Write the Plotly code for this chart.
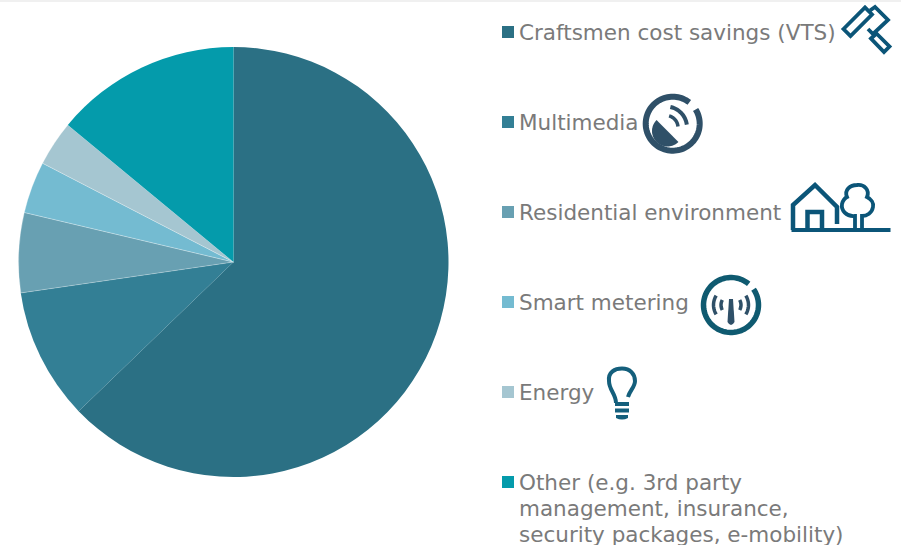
import math
import plotly.graph_objects as go

categories = ["Craftsmen cost savings (VTS)", "Multimedia", "Residential environment",
              "Smart metering", "Energy", "Other (e.g. 3rd party"]
other_extra_lines = ["management, insurance,", "security packages, e-mobility)"]
values = [62.8, 9.9, 6.0, 3.9, 3.4, 14.0]
colors = ["#2b7084", "#337f95", "#68a0b2", "#74bbd1", "#a5c6d1", "#049bab"]
slice_line_widths = [0, 0, 0.5, 0.5, 0.5, 0]
legend_y = [32, 122, 212, 302, 392, 482]

W, H = 901, 545
CX, CY, R = 233.5, 262, 215
TEXT = "#7a7a7a"
BLUE = "#0b5578"
SLATE = "#2f5068"
TEAL = "#0f5a70"
BULB = "#145f7c"


def poly(points, close=False):
    return "M " + " L ".join(f"{x:.2f},{y:.2f}" for x, y in points) + (" Z" if close else "")


def arc(cx, cy, r, a0, a1, n=48):
    """Polyline arc; angles in degrees, counter-clockwise from east, screen y down."""
    return [(cx + r * math.cos(math.radians(a0 + (a1 - a0) * i / n)),
             cy - r * math.sin(math.radians(a0 + (a1 - a0) * i / n))) for i in range(n + 1)]


def stroke(path, color, width):
    return dict(type="path", xref="x", yref="y", path=path, line=dict(color=color, width=width), fillcolor="rgba(0,0,0,0)")


def solid(path, color):
    return dict(type="path", xref="x", yref="y", path=path, line_width=0, fillcolor=color)


fig = go.Figure()
fig.add_trace(go.Pie(values=values, labels=categories, sort=False, direction="clockwise", rotation=0,
                     marker=dict(colors=colors, line=dict(color="rgba(255,255,255,0.55)", width=slice_line_widths)),
                     textinfo="none", hoverinfo="label+percent", showlegend=False,
                     domain=dict(x=[(CX - R) / W, (CX + R) / W], y=[1 - (CY + R) / H, 1 - (CY - R) / H])))
fig.add_trace(go.Scatter(x=[0], y=[0], mode="markers", marker=dict(opacity=0), showlegend=False, hoverinfo="skip"))

shapes = [dict(type="rect", xref="x", yref="y", x0=0, x1=W, y0=0, y1=2, fillcolor="#f0f0f0", line_width=0, layer="below")]
annotations = []
FS = 21.5


def add_text(txt, y):
    annotations.append(dict(x=516.5, y=y, xref="x", yref="y", xanchor="left", yanchor="middle", align="left",
                            text=txt, showarrow=False, font=dict(family="DejaVu Sans", size=FS, color=TEXT)))


for lab, col, y in zip(categories, colors, legend_y):
    shapes.append(dict(type="rect", xref="x", yref="y", x0=502, x1=514, y0=y - 6, y1=y + 6, fillcolor=col, line_width=0))
    add_text(lab, y)
for i, lab in enumerate(other_extra_lines):
    add_text(lab, legend_y[-1] + 26 * (i + 1))

# Roller icon
shapes += [
    stroke(poly([(843.5, 29), (865, 7.5), (872, 14.5), (850.5, 36)], True), BLUE, 3.8),
    stroke(poly([(870, 10.5), (875, 7), (888, 20), (873, 34), (868, 29)]), BLUE, 3.8),
    stroke(poly([(871, 38.5), (876.5, 33.5), (889.5, 46.5), (884, 52)], True), BLUE, 3.8),
]
# Satellite icon
shapes += [
    stroke(poly(arc(672.7, 123.7, 27, 52, 392, 90)), SLATE, 6),
    solid(poly(arc(667.5, 131, 15.5, 135, 315, 40), True), SLATE),
    stroke(poly(arc(666, 127.5, 12, 5, 75, 20)), SLATE, 3.5),
    stroke(poly(arc(666, 127.5, 21, 8, 78, 24)), SLATE, 4),
]
# House and tree icon
shapes += [
    stroke(poly([(793, 230), (793, 205), (815, 185), (837, 207), (837, 224)]), BLUE, 4.5),
    stroke(poly([(807.5, 230), (807.5, 212), (822, 212), (822, 230)]), BLUE, 4.5),
    solid("M 791.5,228 L 890.5,228 L 890.5,232 L 791.5,232 Z", BLUE),
    stroke("M 855,230 L 855,216 C 846,217 841,210 842,204 C 843,200 845,198 847,197 "
           "C 844,190 850,185 857,185 C 864,184 870,190 867,197 C 871,199 874,203 873,207 "
           "C 872,213 867,216 862,216 L 862,230", BLUE, 3.8),
]
# Meter icon
shapes += [
    stroke(poly(arc(731, 305, 27.5, 50, 395, 90)), TEAL, 5.5),
    solid("M 729,299 L 733,299 L 734.5,322 Q 731,328 727.5,322 Z", SLATE),
    stroke(poly(arc(731, 305, 10, -30, 30, 12)), SLATE, 3.5),
    stroke(poly(arc(731, 305, 10, 150, 210, 12)), SLATE, 3.5),
    stroke(poly(arc(731, 305, 17.5, -32, 32, 12)), SLATE, 3.5),
    stroke(poly(arc(731, 305, 17.5, 148, 212, 12)), SLATE, 3.5),
]
# Bulb icon
shapes += [
    stroke("M 616,403 C 616,394 609,390 609,381 C 608,372 615,368.5 622,368.5 C 630,368.5 635,374 635,381 "
           "C 635,387 630,390 628,397", BULB, 4),
    solid("M 615,402 L 629,402 L 629,406 L 615,406 Z", BULB),
    solid("M 615,408.5 L 629,408.5 L 629,412.5 L 615,412.5 Z", BULB),
    solid("M 616,415 L 628,415 L 628,418 Q 622,421 616,418 Z", BULB),
]

fig.update_layout(width=W, height=H, margin=dict(l=0, r=0, t=0, b=0), paper_bgcolor="white", plot_bgcolor="white",
                  xaxis=dict(range=[0, W], visible=False), yaxis=dict(range=[H, 0], visible=False),
                  shapes=shapes, annotations=annotations)
fig.write_html("out.html", config={"displayModeBar": False},
               post_script="document.body.style.margin='0';document.body.style.overflow='hidden';")
